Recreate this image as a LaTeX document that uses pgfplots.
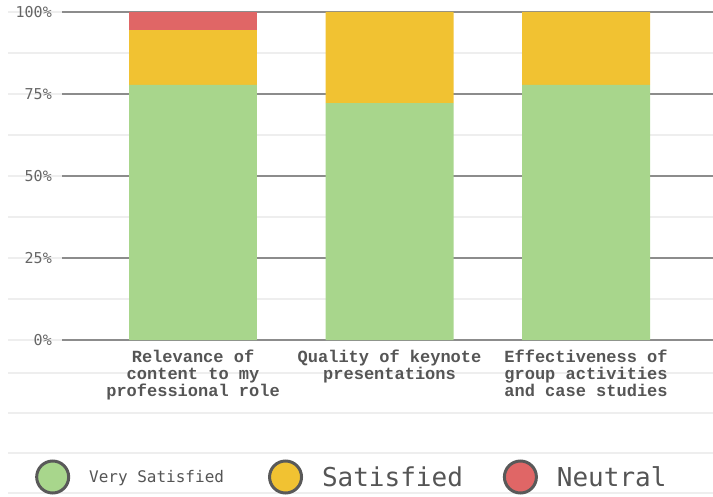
\documentclass[border=0pt]{standalone}
\usepackage{pgfplots}
\pgfplotsset{compat=1.18}
\usepackage{fontspec}
\setmainfont{Liberation Sans}
\newfontfamily\xlab{Liberation Mono}
\newfontfamily\dmono{DejaVu Sans Mono}
\definecolor{vs}{HTML}{A8D68C}
\definecolor{sat}{HTML}{F1C232}
\definecolor{neu}{HTML}{E06666}
\definecolor{lightgrid}{HTML}{EEEEEE}
\definecolor{darkgrid}{HTML}{8C8C8C}
\definecolor{labgray}{HTML}{555555}
\definecolor{tickgray}{HTML}{666666}
\definecolor{legdark}{HTML}{595959}
\begin{document}
\begin{tikzpicture}[x=1pt,y=1pt]
\useasboundingbox (0,0) rectangle (713,496);
\foreach \yy in {123,83,43,3} \draw[lightgrid, line width=2pt] (8,\yy) -- (713,\yy);
% full-width light grid
\begin{axis}[
  at={(8pt,156pt)}, anchor=south west,
  scale only axis, width=705pt, height=328pt,
  xmin=0, xmax=1, ymin=0, ymax=100,
  axis line style={draw=none}, tick style={draw=none},
  major tick length=0pt, minor tick length=0pt,
  xtick=\empty, yticklabels={},
  ytick={0,25,50,75,100},
  minor ytick={12.5,37.5,62.5,87.5},
  ymajorgrids, yminorgrids,
  major grid style={lightgrid, line width=2pt},
  minor grid style={lightgrid, line width=2pt},
]
\end{axis}
% main axis with dark major grid from x=62
\begin{axis}[
  at={(62pt,156pt)}, anchor=south west,
  scale only axis, width=651pt, height=328pt,
  xmin=-0.6667, xmax=2.646, ymin=0, ymax=100,
  ybar stacked, bar width=0.651,
  axis line style={draw=none}, tick style={draw=none},
  major tick length=0pt, minor tick length=0pt,
  clip=false,
  xtick={0,1,2},
  xticklabels={Relevance of\\content to my\\professional role, Quality of keynote\\presentations, Effectiveness of\\group activities\\and case studies},
  xticklabel style={font=\xlab\bfseries\fontsize{17}{16.7}\selectfont, align=center, text=labgray, anchor=north, inner sep=0pt, yshift=-10pt},
  ytick={0,25,50,75,100},
  yticklabels={0\%,25\%,50\%,75\%,100\%},
  yticklabel style={font=\dmono\fontsize{15}{15}\selectfont, text=tickgray, anchor=east, inner sep=0pt, xshift=-10pt},
  ymajorgrids,
  major grid style={darkgrid, line width=1.5pt},
  legend columns=3,
  legend style={at={(-0.0415,-0.4177)}, anchor=west, draw=none, fill=none, inner sep=0pt,
    nodes={inner sep=0pt, text=labgray},
    /tikz/every odd column/.append style={column sep=19pt},
    /tikz/column 2/.style={column sep=44pt},
    /tikz/column 4/.style={column sep=40pt}},
  legend image code/.code={\draw[#1, draw=legdark, line width=3pt] (16pt,0pt) circle (16pt);},
]
\addplot[fill=vs, draw=none] coordinates {(0,77.78) (1,72.22) (2,77.78)};
\addplot[fill=sat, draw=none] coordinates {(0,16.67) (1,27.78) (2,22.22)};
\addplot[fill=neu, draw=none] coordinates {(0,5.56) (1,0) (2,0)};
\addlegendentry{\dmono\fontsize{16}{16}\selectfont Very Satisfied}
\addlegendentry{\dmono\fontsize{26}{26}\selectfont Satisfied}
\addlegendentry{\dmono\fontsize{26}{26}\selectfont Neutral}
\end{axis}
\end{tikzpicture}
\end{document}
